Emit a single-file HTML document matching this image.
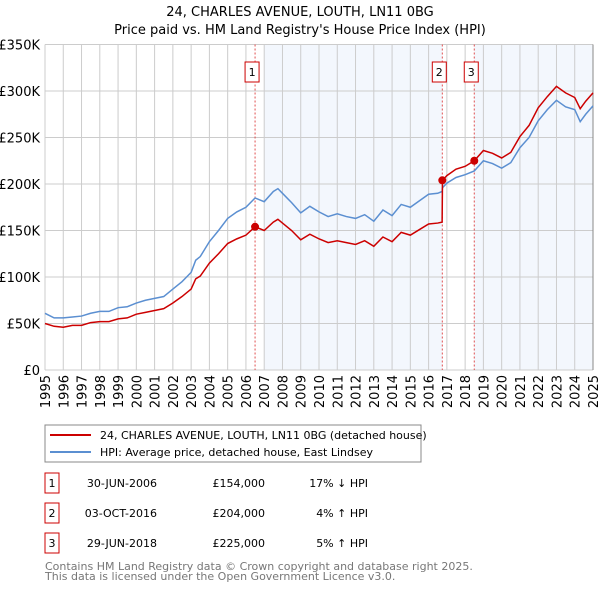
<!DOCTYPE html>
<html><head><meta charset="utf-8"><style>
body{margin:0;background:#fff;font-family:"Liberation Sans","DejaVu Sans",sans-serif;}
svg text{font-family:"DejaVu Sans","Liberation Sans",sans-serif;}
</style></head><body>
<svg id="c" width="600" height="590" viewBox="0 0 600 590">
<text x="300" y="16" text-anchor="middle" font-size="13">24, CHARLES AVENUE, LOUTH, LN11 0BG</text>
<text x="300" y="34" text-anchor="middle" font-size="13">Price paid vs. HM Land Registry's House Price Index (HPI)</text>
<g id="plot"></g>
<rect x="45" y="425" width="376" height="37" fill="#fff" stroke="#888"/>
<line x1="50" y1="435" x2="91" y2="435" stroke="#cc0000" stroke-width="2"/>
<text x="100" y="439" font-size="11">24, CHARLES AVENUE, LOUTH, LN11 0BG (detached house)</text>
<line x1="50" y1="452" x2="91" y2="452" stroke="#5b8fd1" stroke-width="2"/>
<text x="100" y="456" font-size="11">HPI: Average price, detached house, East Lindsey</text>
<g id="table" font-size="11"></g>
<text x="45" y="570" font-size="11" fill="#777">Contains HM Land Registry data © Crown copyright and database right 2025.</text>
<text x="45" y="580" font-size="11" fill="#777">This data is licensed under the Open Government Licence v3.0.</text>
</svg>
<script>
const dates=[1995,1995.5,1996,1996.5,1997,1997.5,1998,1998.5,1999,1999.5,2000,2000.5,2001,2001.5,2002,2002.5,2003,2003.25,2003.5,2004,2004.5,2005,2005.5,2006,2006.5,2007,2007.5,2007.75,2008,2008.5,2009,2009.5,2010,2010.5,2011,2011.5,2012,2012.5,2013,2013.5,2014,2014.5,2015,2015.5,2016,2016.5,2016.74,2016.76,2017,2017.5,2018,2018.5,2019,2019.5,2020,2020.5,2021,2021.5,2022,2022.5,2023,2023.5,2024,2024.3,2024.6,2025];
const hpi=[61,56,56,57,58,61,63,63,67,68,72,75,77,79,87,95,105,118,122,138,150,163,170,175,185,181,192,195,190,180,169,176,170,165,168,165,163,167,160,172,166,178,175,182,189,190,192,196,201,207,210,214,225,222,217,223,239,250,268,280,290,283,280,267,275,284];
const prop=[50,47,46,48,48,51,52,52,55,56,60,62,64,66,72,79,87,98,101,115,125,136,141,145,154,150,159,162,158,150,140,146,141,137,139,137,135,139,133,143,138,148,145,151,157,158,159,204,209,216,219,225,236,233,228,234,251,263,282,294,305,298,293,281,289,298];
const saleDates=[2006.5,2016.75,2018.5];
const salePrices=[154,204,225];
const saleLabels=["1","2","3"];
const saleDateText=["30-JUN-2006","03-OCT-2016","29-JUN-2018"];
const salePriceText=["£154,000","£204,000","£225,000"];
const saleHpiText=["17% ↓ HPI","4% ↑ HPI","5% ↑ HPI"];
const yTicks=[0,50,100,150,200,250,300,350];
const yTickLabels=["£0","£50K","£100K","£150K","£200K","£250K","£300K","£350K"];
const xYears=[1995,1996,1997,1998,1999,2000,2001,2002,2003,2004,2005,2006,2007,2008,2009,2010,2011,2012,2013,2014,2015,2016,2017,2018,2019,2020,2021,2022,2023,2024,2025];

const L=45,R=593,T=44.5,B=370;
const X=y=>L+(y-1995)/30*(R-L);
const Y=v=>B-v/350*(B-T);
const NS="http://www.w3.org/2000/svg";
const plot=document.getElementById('plot');
function mk(tag,attrs,parent){const e=document.createElementNS(NS,tag);for(const k in attrs)e.setAttribute(k,attrs[k]);(parent||plot).appendChild(e);return e;}
let e;
e=mk('rect',{x:X(2007),y:T,width:X(2016.75)-X(2007),height:B-T,fill:'#eef3fc',opacity:0.7});


e=mk('rect',{x:X(2018.5),y:T,width:R-X(2018.5),height:B-T,fill:'#eef3fc',opacity:0.7});


yTicks.forEach((v,i)=>{
 e=mk('line',{x1:L,x2:R,y1:Y(v),y2:Y(v),stroke:'#ccc'});
 
 
 e=mk('text',{x:40,y:Y(v)+5,'text-anchor':'end','font-size':13});
 e.textContent=yTickLabels[i];
 
 
});
xYears.forEach(yr=>{
 e=mk('line',{x1:X(yr),x2:X(yr),y1:T,y2:B,stroke:'#ccc'});
 
 
 e=mk('text',{x:0,y:0,'text-anchor':'end','font-size':13,transform:`translate(${X(yr)+5},${B+5}) rotate(-90)`});
 e.textContent=yr;
 
 
});
e=mk('line',{x1:R,x2:R,y1:T,y2:B,stroke:'#888'});


saleDates.forEach((d,i)=>{
 e=mk('line',{x1:X(d),x2:X(d),y1:T,y2:B,stroke:'#e05050','stroke-dasharray':'2,2'});
 
 
 e=mk('rect',{x:X(d)-10,y:62,width:14,height:20,fill:'#fff',stroke:'#cc0000'});
 
 
 e=mk('text',{x:X(d)-3,y:76,'text-anchor':'middle','font-size':11});
 e.textContent=saleLabels[i];
 
 
});
e=mk('polyline',{points:dates.map((d,i)=>X(d)+','+Y(hpi[i])).join(' '),fill:'none',stroke:'#5b8fd1','stroke-width':1.5});


e=mk('polyline',{points:dates.map((d,i)=>X(d)+','+Y(prop[i])).join(' '),fill:'none',stroke:'#cc0000','stroke-width':1.5});


saleDates.forEach((d,i)=>{
 e=mk('circle',{cx:X(d),cy:Y(salePrices[i]),r:4,fill:'#cc0000'});
 
 
});
const tb=document.getElementById('table');
saleLabels.forEach((l,i)=>{
 const y=483+i*30;
 e=mk('rect',{x:45,y:y-10,width:14,height:20,fill:'#fff',stroke:'#cc0000'},tb);
 
 
 e=mk('text',{x:52,y:y+4,'text-anchor':'middle'},tb);e.textContent=l;
 
 
 e=mk('text',{x:157,y:y+4,'text-anchor':'end'},tb);e.textContent=saleDateText[i];
 
 
 e=mk('text',{x:265,y:y+4,'text-anchor':'end'},tb);e.textContent=salePriceText[i];
 
 
 e=mk('text',{x:368,y:y+4,'text-anchor':'end'},tb);e.textContent=saleHpiText[i];
 
 
});
</script>
</body></html>
